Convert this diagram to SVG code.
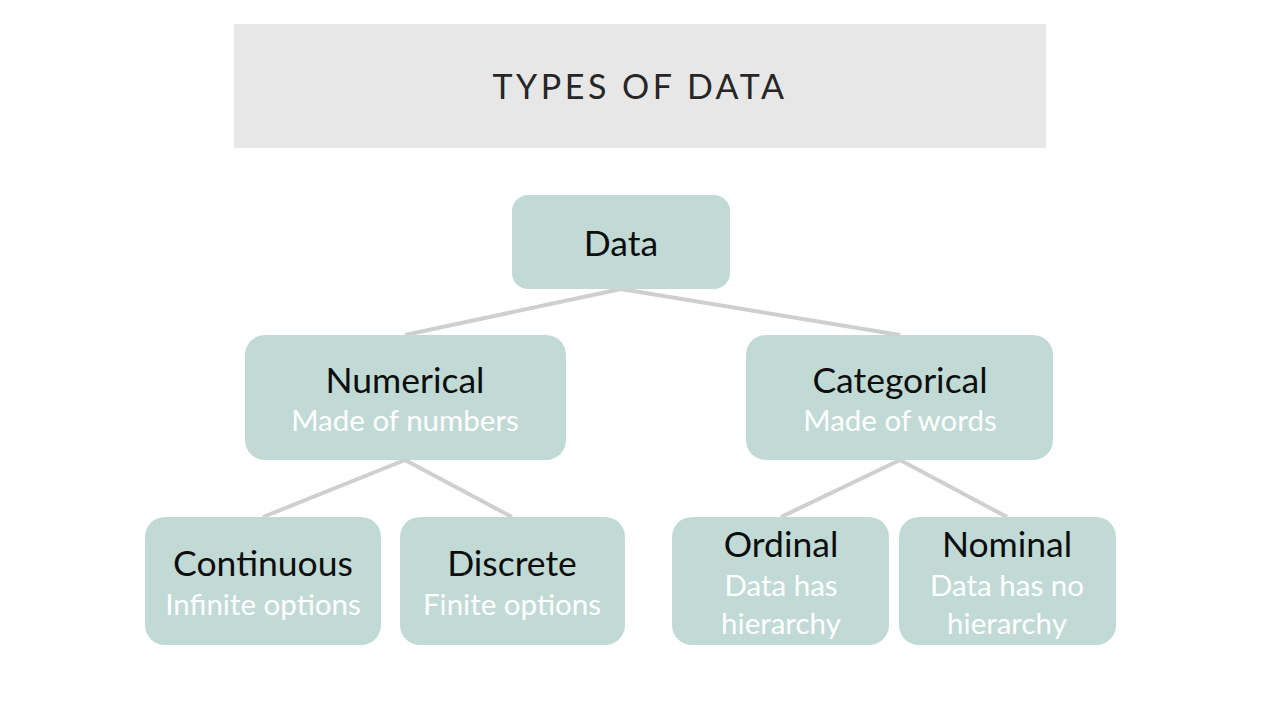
<svg xmlns="http://www.w3.org/2000/svg" width="1280" height="720" viewBox="0 0 1280 720">
<style>
.box{fill:#c1dad5}
.main{font-family:Lato,"Open Sans",sans-serif;font-size:35.5px;fill:#0d0d0d;text-anchor:middle}
.sub{font-family:Lato,"Open Sans",sans-serif;font-size:29.5px;fill:#ffffff;text-anchor:middle}
.edge{stroke:#d0cece;stroke-width:4;fill:none}
</style>
<rect width="1280" height="720" fill="#ffffff"/>
<g id="title">
<rect x="234" y="24" width="812" height="124" fill="#e7e7e7"/>
<text x="640" y="99" font-family="Lato,'Open Sans',sans-serif" font-size="34" letter-spacing="3.5" fill="#262626" text-anchor="middle">TYPES OF DATA</text>
</g>
<g id="connectors">
<line class="edge" x1="621" y1="289" x2="405" y2="335"/>
<line class="edge" x1="621" y1="289" x2="900" y2="335"/>
<line class="edge" x1="405" y1="460" x2="263" y2="517"/>
<line class="edge" x1="405" y1="460" x2="512" y2="517"/>
<line class="edge" x1="900" y1="460" x2="781" y2="517"/>
<line class="edge" x1="900" y1="460" x2="1007" y2="517"/>
</g>
<g id="data">
<rect class="box" x="512" y="195" width="218" height="94" rx="16"/>
<text class="main" x="621" y="256">Data</text>
</g>
<g id="numerical">
<rect class="box" x="245" y="335" width="321" height="125" rx="20"/>
<text class="main" x="405" y="393">Numerical</text>
<text class="sub" x="405" y="431">Made of numbers</text>
</g>
<g id="categorical">
<rect class="box" x="746" y="335" width="307" height="125" rx="20"/>
<text class="main" x="900" y="393">Categorical</text>
<text class="sub" x="900" y="431">Made of words</text>
</g>
<g id="continuous">
<rect class="box" x="145" y="517" width="236" height="128" rx="20"/>
<text class="main" x="263" y="576">Continuous</text>
<text class="sub" x="263" y="615">Infinite options</text>
</g>
<g id="discrete">
<rect class="box" x="400" y="517" width="225" height="128" rx="20"/>
<text class="main" x="512" y="576">Discrete</text>
<text class="sub" x="512" y="615">Finite options</text>
</g>
<g id="ordinal">
<rect class="box" x="672" y="517" width="217" height="128" rx="20"/>
<text class="main" x="781" y="557">Ordinal</text>
<text class="sub" x="781" y="596">Data has</text>
<text class="sub" x="781" y="634">hierarchy</text>
</g>
<g id="nominal">
<rect class="box" x="899" y="517" width="217" height="128" rx="20"/>
<text class="main" x="1007" y="557">Nominal</text>
<text class="sub" x="1007" y="596">Data has no</text>
<text class="sub" x="1007" y="634">hierarchy</text>
</g>
</svg>
